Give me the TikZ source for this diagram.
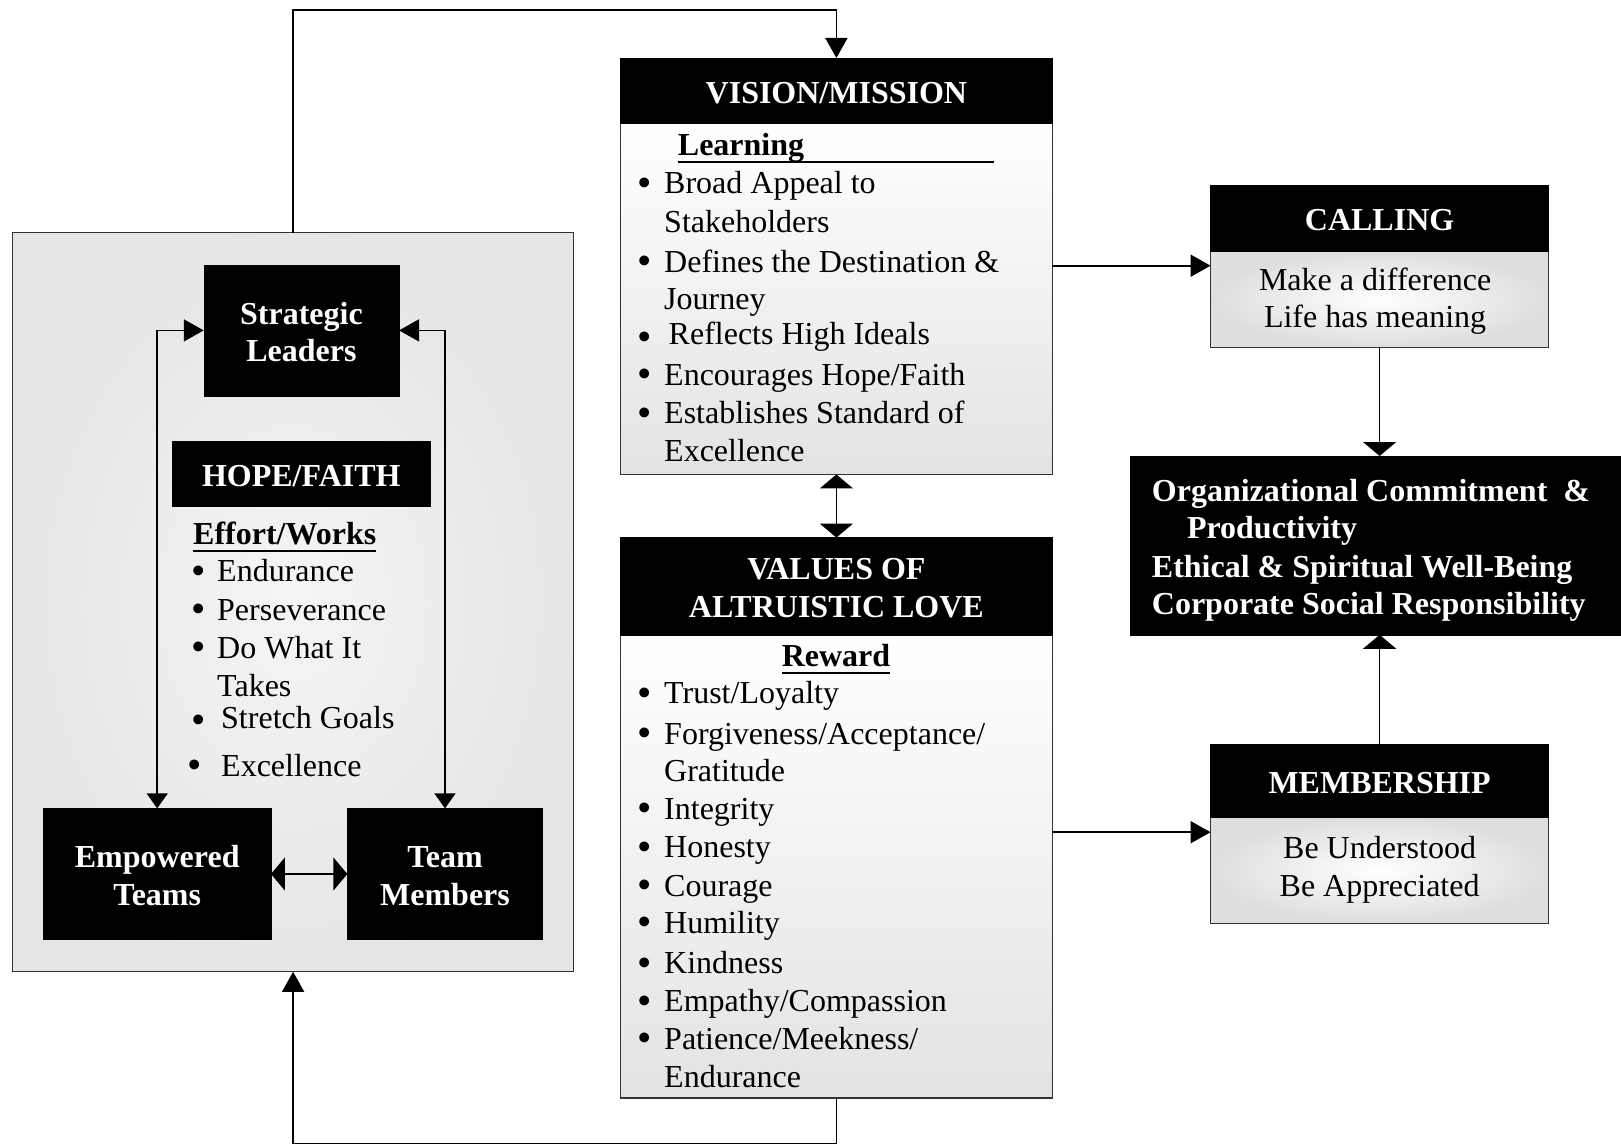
\documentclass[tikz,border=0pt]{standalone}
\usepackage{fontspec}
\setmainfont{Liberation Serif}
\usetikzlibrary{arrows.meta}
\newcommand\mywul[1]{\setbox0\hbox{#1}\rlap{\rule[-8pt]{\wd0}{2.6pt}}\box0}
\newcommand\mybul{\raisebox{-2.5pt}{\fontsize{41}{41}\selectfont\textbullet}}
\newcommand\mystr{\rule{0pt}{25.5pt}}
\begin{document}
\begin{tikzpicture}[x=1pt,y=-1pt,
  hdrtwo/.style={fill=black,draw=black,text=white,inner sep=0pt,outer sep=0pt,align=center,font=\fontsize{32}{37.5}\selectfont\bfseries},
  hdr/.style={hdrtwo,text height=26pt},
  bodyv/.style={draw=black!80,line width=1.3pt,top color=white,bottom color=black!11,inner sep=0pt,outer sep=0pt},
  bodyr/.style={draw=black!80,line width=1.3pt,inner color=white,outer color=black!13,inner sep=0pt,outer sep=0pt,align=center,font=\fontsize{32}{37.5}\selectfont},
  outerbox/.style={draw=black!80,line width=1.3pt,inner color=white!96!black,outer color=black!10,inner sep=0pt,outer sep=0pt},
  txt/.style={anchor=base west,inner sep=0pt,font=\fontsize{32}{37.5}\selectfont},
  btxt/.style={txt,font=\fontsize{32}{37.5}\selectfont\bfseries,text=white},
  conn/.style={line width=1.6pt,-{Triangle[length=20pt,width=22pt]}},
  flat/.style={line width=1.6pt,{Triangle[length=14pt,width=33pt]}-{Triangle[length=14pt,width=33pt]}},
  flatone/.style={line width=1.6pt,-{Triangle[length=14pt,width=33pt]}},
  slarr/.style={line width=1.6pt,{Triangle[length=20pt,width=22pt]}-{Triangle[length=15pt,width=21pt]}}
]
\useasboundingbox (0,0) rectangle (1621,1145);
\fill[white] (0,0) rectangle (1621,1145);

% ---------- left block ----------
\node[outerbox,minimum width=561.4pt,minimum height=739.2pt] (outer) at (293.1,602.2) {};
\node[hdrtwo,minimum width=195.3pt,minimum height=131.3pt] (sl) at (301.4,330.4) {\mystr Strategic\\Leaders};
\node[hdr,minimum width=257.4pt,minimum height=65.2pt] (hope) at (301.3,474) {HOPE/FAITH};
\node[hdrtwo,minimum width=227.5pt,minimum height=131.3pt] (et) at (157.2,874) {\mystr Empowered\\Teams};
\node[hdrtwo,minimum width=195.3pt,minimum height=131.3pt] (tm) at (445,874) {\mystr Team\\Members};

\node[txt] (ew) at (193,544.4) {\mywul{\bfseries Effort/Works}};
\node[txt] (lb1) at (191,581.7) {\mybul};
\node[txt] (lt1) at (217,581.7) {Endurance};
\node[txt] (lb2) at (191,620) {\mybul};
\node[txt] (lt2) at (217,620) {Perseverance};
\node[txt] (lb3) at (191,658) {\mybul};
\node[txt] (lt3) at (217,658) {Do What It};
\node[txt] (lt3b) at (217,696) {Takes};
\node[txt] (lb4) at (191,731) {\mybul};
\node[txt] (lt4) at (221,728) {Stretch Goals};
\node[txt] (lb5) at (187,776) {\mybul};
\node[txt] (lt5) at (221,776) {Excellence};

% ---------- vision / mission ----------
\node[bodyv,minimum width=432pt,minimum height=351.5pt] (vbody) at (836.4,298.7) {};
\node[hdr,minimum width=432pt,minimum height=65pt] (vhead) at (836.4,90.5) {VISION/MISSION};
\node[txt] (vl) at (677.7,155.3) {\rlap{\rule[-8pt]{316pt}{2.6pt}}\bfseries Learning};
\node[txt] (vb1) at (637.5,193.7) {\mybul};
\node[txt] (vt1) at (664,193.7) {Broad Appeal to};
\node[txt] (vt1b) at (664,232) {Stakeholders};
\node[txt] (vb2) at (637.5,272) {\mybul};
\node[txt] (vt2) at (664,272) {Defines the Destination \&};
\node[txt] (vt2b) at (664,309) {Journey};
\node[txt] (vb3) at (637.5,347.5) {\mybul};
\node[txt] (vt3) at (668.5,344.7) {Reflects High Ideals};
\node[txt] (vb4) at (637.5,385) {\mybul};
\node[txt] (vt4) at (664,385) {Encourages Hope/Faith};
\node[txt] (vb5) at (637.5,423.7) {\mybul};
\node[txt] (vt5) at (664,423.7) {Establishes Standard of};
\node[txt] (vt5b) at (664,461) {Excellence};

% ---------- values of altruistic love ----------
\node[bodyv,minimum width=432pt,minimum height=463.2pt] (abody) at (836.4,866.4) {};
\node[hdrtwo,minimum width=432pt,minimum height=97.2pt] (ahead) at (836.4,586.2) {\mystr VALUES OF\\ALTRUISTIC LOVE};
\node[txt,anchor=base] (rw) at (836,666.4) {\mywul{\bfseries Reward}};
\node[txt] (ab1) at (637.5,703.6) {\mybul};
\node[txt] (at1) at (664,703.6) {Trust/Loyalty};
\node[txt] (ab2) at (637.5,744) {\mybul};
\node[txt] (at2) at (664,744) {Forgiveness/Acceptance/};
\node[txt] (at2b) at (664,781) {Gratitude};
\node[txt] (ab3) at (637.5,819.4) {\mybul};
\node[txt] (at3) at (664,819.4) {Integrity};
\node[txt] (ab4) at (637.5,857.7) {\mybul};
\node[txt] (at4) at (664,857.7) {Honesty};
\node[txt] (ab5) at (637.5,896) {\mybul};
\node[txt] (at5) at (664,896) {Courage};
\node[txt] (ab6) at (637.5,933) {\mybul};
\node[txt] (at6) at (664,933) {Humility};
\node[txt] (ab7) at (637.5,973.5) {\mybul};
\node[txt] (at7) at (664,973.5) {Kindness};
\node[txt] (ab8) at (637.5,1011.7) {\mybul};
\node[txt] (at8) at (664,1011.7) {Empathy/Compassion};
\node[txt] (ab9) at (637.5,1049) {\mybul};
\node[txt] (at9) at (664,1049) {Patience/Meekness/};
\node[txt] (at9b) at (664,1087) {Endurance};

% ---------- calling ----------
\node[bodyr,minimum width=338pt,minimum height=96.2pt] (cbody) at (1379.6,299.3) {\hspace*{-9pt}\rule{0pt}{26pt}Make a difference\\\hspace*{-9pt}Life has meaning};
\node[hdr,minimum width=338pt,minimum height=66.2pt] (chead) at (1379.6,218.1) {CALLING};

% ---------- organizational commitment ----------
\node[hdr,minimum width=492pt,minimum height=178.8pt] (org) at (1376,545.4) {};
\node[btxt] (o1) at (1151.7,501) {Organizational Commitment~~\&};
\node[btxt] (o2) at (1186.8,538) {Productivity};
\node[btxt] (o3) at (1151.7,577.5) {Ethical \& Spiritual Well-Being};
\node[btxt] (o4) at (1151.7,614.7) {Corporate Social Responsibility};

% ---------- membership ----------
\node[bodyr,minimum width=338pt,minimum height=106.5pt] (mbody) at (1379.6,870) {Be Understood\\Be Appreciated};
\node[hdr,minimum width=338pt,minimum height=72.4pt] (mhead) at (1379.6,780.5) {MEMBERSHIP};

% ---------- connectors ----------
\coordinate (ttop) at (836.4,10.3);
\coordinate (bbot) at (836.4,1143.4);
\coordinate (ca) at (0,265.7);
\coordinate (ma) at (0,832.2);

\draw[conn] (outer.north) |- (ttop) -- (vhead.north);
\draw[conn] (abody.south) -- (bbot) -| (outer.south);
\draw[flat] (vbody.south) -- (ahead.north);
\draw[conn] (vbody.east |- ca) -- (cbody.west |- ca);
\draw[conn] (abody.east |- ma) -- (mbody.west |- ma);
\draw[flatone] (cbody.south) -- (cbody.south |- org.north);
\draw[flatone] (mhead.north) -- (mhead.north |- org.south);

\draw[slarr] (sl.west) -| (et.north);
\draw[slarr] (sl.east) -| (tm.north);
\draw[flat] (et.east) -- (tm.west);
\end{tikzpicture}
\end{document}
